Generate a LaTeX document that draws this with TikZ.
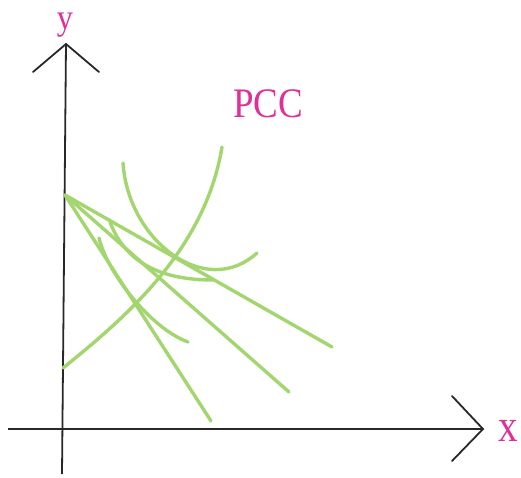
\documentclass[tikz,border=0pt]{standalone}
\usepackage{fontspec}
\setmainfont{Liberation Serif}
\definecolor{pcccol}{RGB}{224,48,152}
\definecolor{grn}{RGB}{164,214,112}
\definecolor{axc}{RGB}{40,40,40}
\tikzset{
  axisline/.style={draw=axc,line width=1.8pt},
  arrowarm/.style={draw=axc,line width=1.8pt,line cap=round,line join=miter},
  greenline/.style={draw=grn,line width=3.4pt,line cap=round},
  lbl/.style={text=pcccol,inner sep=0pt,anchor=base}
}
\begin{document}
\begin{tikzpicture}[x=1pt,y=-1pt]
\useasboundingbox[fill=white] (0,0) rectangle (521,477);
% axes
\coordinate (ybot) at (62,474);
\coordinate (ytop) at (66,44);
\coordinate (ylarm) at (33,72);
\coordinate (yrarm) at (99,72);
\coordinate (xleft) at (8,429);
\coordinate (xtip) at (483,429);
\coordinate (xuarm) at (452,396);
\coordinate (xdarm) at (452,461);
\draw[axisline] (ybot) -- (ytop);
\draw[arrowarm] (ylarm) -- (ytop) -- (yrarm);
\draw[axisline] (xleft) -- (xtip);
\draw[arrowarm] (xuarm) -- (xtip) -- (xdarm);
% labels
\node[lbl,font=\fontsize{36}{36}\selectfont,xscale=0.9] (ylab) at (65,29) {y};
\node[lbl,font=\fontsize{46}{46}\selectfont,xscale=0.85] (xlab) at (508,441) {x};
\node[lbl,font=\fontsize{42}{42}\selectfont,xscale=0.88] (pcclab) at (268,117) {PCC};
% budget lines
\coordinate (A) at (65,195);
\coordinate (B1) at (211,421);
\coordinate (B2) at (289,392);
\coordinate (B3) at (332,347);
\draw[greenline] (A) -- (B1);
\draw[greenline] (A) -- (B2);
\draw[greenline] (A) -- (B3);
% indifference curves
\coordinate (I1s) at (99,238);
\coordinate (I1e) at (188,342);
\coordinate (I2s) at (110,222);
\coordinate (I2e) at (213,280);
\coordinate (I3s) at (123,163);
\coordinate (I3e) at (257,253);
\draw[greenline] (I1s) .. controls (107,272) and (150,328) .. (I1e);
\draw[greenline] (I2s) .. controls (125,262) and (160,280) .. (I2e);
\draw[greenline] (I3s) .. controls (128,240) and (205,300) .. (I3e);
% PCC
\coordinate (Ps) at (63,368);
\coordinate (Pe) at (222,147);
\draw[greenline] (Ps) .. controls (125,318) and (205,250) .. (Pe);
\end{tikzpicture}
\end{document}
